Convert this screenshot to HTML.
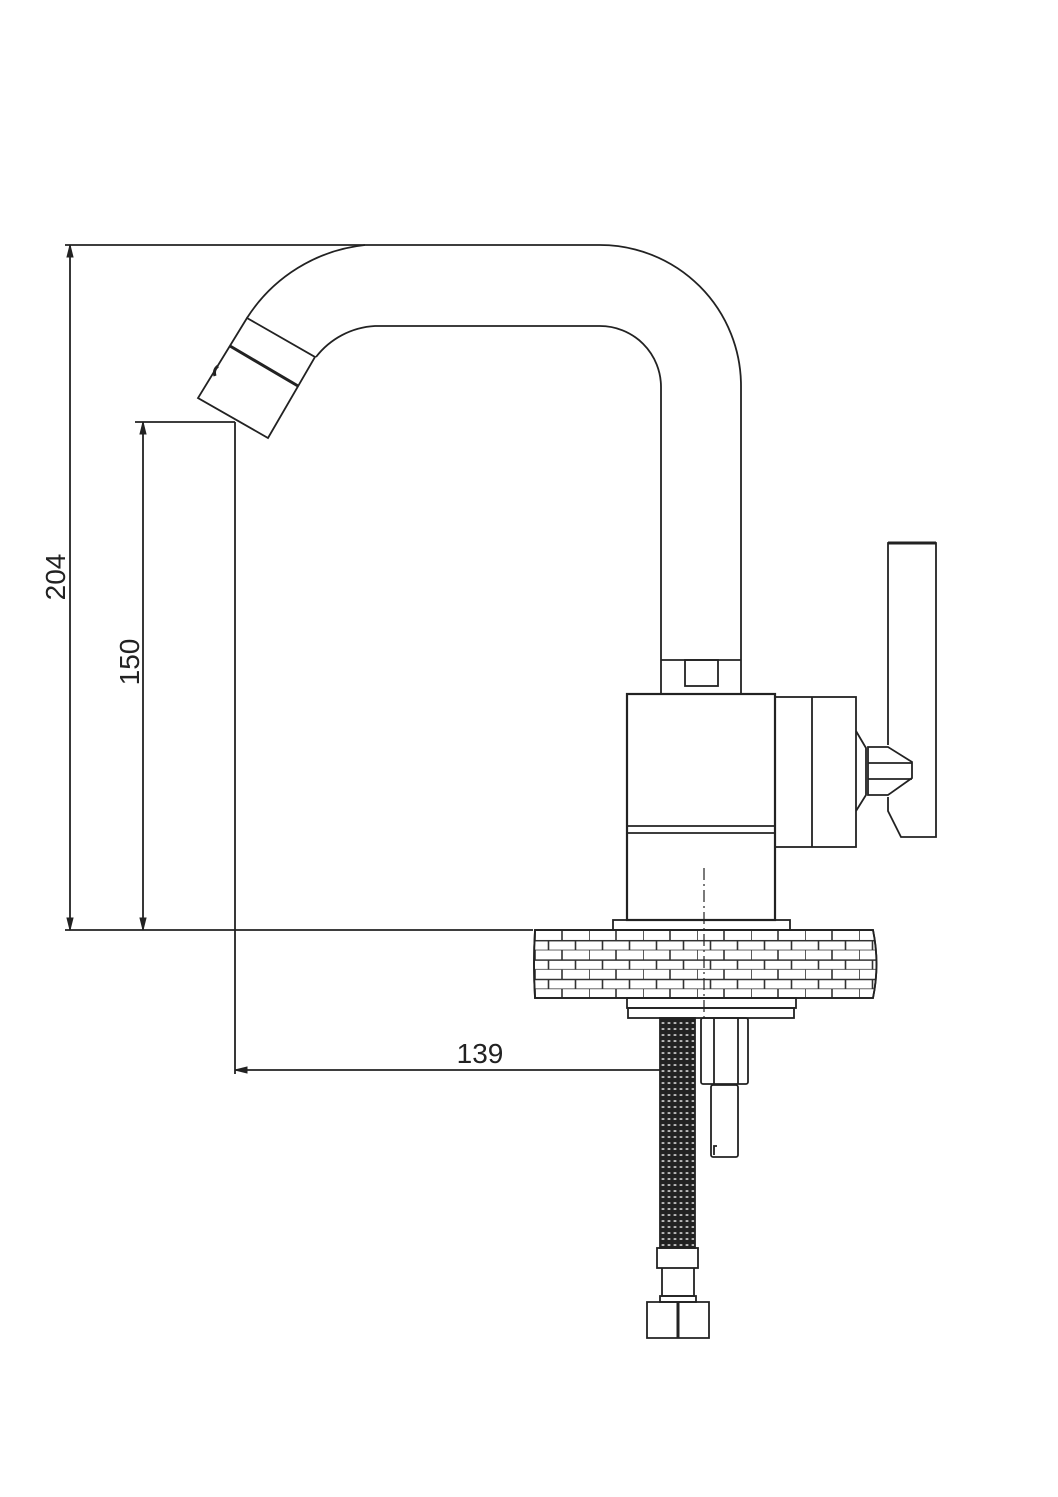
<!DOCTYPE html>
<html><head><meta charset="utf-8"><style>html,body{margin:0;padding:0;background:#fff}svg{display:block}</style></head>
<body>
<svg width="1058" height="1497" viewBox="0 0 1058 1497" xmlns="http://www.w3.org/2000/svg">
<defs>
<pattern id="brick" x="535" y="931" width="54" height="19.4" patternUnits="userSpaceOnUse">
<rect width="54" height="19.4" fill="#fff"/>
<path d="M0 9.7H54M0 19.4H54M0 0V9.7M27 0V9.7M13.5 9.7V19.4M40.5 9.7V19.4" stroke="#333" stroke-width="1.6" fill="none"/>
</pattern>
<pattern id="braid" width="6" height="6" patternUnits="userSpaceOnUse">
<rect width="6" height="6" fill="#222"/>
<ellipse cx="3" cy="3" rx="1.6" ry="1" fill="#bbb"/>
</pattern>
</defs>
<g fill="none" stroke="#222" stroke-width="1.8">
<line x1="65" y1="245" x2="365" y2="245"/>
<line x1="70" y1="245" x2="70" y2="930"/>
<line x1="65" y1="930" x2="533" y2="930"/>
<line x1="135" y1="422" x2="235" y2="422"/>
<line x1="143" y1="422" x2="143" y2="930"/>
<line x1="235" y1="422" x2="235" y2="1074"/>
<line x1="235" y1="1070" x2="660" y2="1070"/>
<path d="M70 245l-3 12h6zM70 930l-3-12h6zM143 422l-3 12h6zM143 930l-3-12h6zM235 1070l12-3v6z" fill="#222" stroke-width="1"/>
<path d="M247 318 A160 160 0 0 1 365 245 H600 A141 141 0 0 1 741 386 V694"/>
<path d="M316 357 A80 80 0 0 1 375 326 H600 A61 61 0 0 1 661 387 V694"/>
<line x1="661" y1="660" x2="741" y2="660"/>
<rect x="685" y="660" width="33" height="26"/>
<path d="M247 318 L315 357 L268 438 L198 398 Z"/>
<line x1="230" y1="346" x2="298" y2="386" stroke-width="3"/>
<path d="M218 366 q-5 4 -3 10" stroke-width="3"/>
<rect x="627" y="694" width="148" height="226" stroke-width="2.2"/>
<line x1="627" y1="826" x2="775" y2="826"/>
<line x1="627" y1="833" x2="775" y2="833"/>
<rect x="775" y="697" width="81" height="150"/>
<line x1="812" y1="697" x2="812" y2="847"/>
<path d="M856 731 L866 748 V795 L856 811"/>
<path d="M868 747 H888 L912 762 V778 L888 795 H868 Z"/>
<line x1="868" y1="763" x2="912" y2="763"/>
<line x1="868" y1="779" x2="912" y2="779"/>
<path d="M888 745 V543 H936 V837 H901 L888 811 V797"/>
<line x1="888" y1="543" x2="936" y2="543" stroke-width="3"/>
<rect x="613" y="920" width="177" height="10"/>
<path d="M535 930 H873 Q880 964 873 998 H535 Q533 964 535 930 Z" fill="url(#brick)"/>
<path d="M535 930 H873 Q880 964 873 998 H535 Q533 964 535 930 Z"/>
<rect x="627" y="998" width="169" height="10"/>
<rect x="628" y="1008" width="166" height="10"/>
<rect x="660" y="1018" width="35" height="230" fill="url(#braid)" stroke="#222"/>
<rect x="701" y="1018" width="47" height="66" rx="2"/>
<line x1="714" y1="1018" x2="714" y2="1084"/>
<line x1="738" y1="1018" x2="738" y2="1084"/>
<rect x="711" y="1085" width="27" height="72" rx="2"/>
<path d="M714 1155 V1146 h3"/>
<rect x="657" y="1248" width="41" height="20"/>
<path d="M662 1268 V1296 H694 V1268"/>
<rect x="660" y="1296" width="36" height="6"/>
<path d="M647 1302 H709 V1338 H647 Z"/>
<line x1="678" y1="1302" x2="678" y2="1338" stroke-width="3"/>
<line x1="704" y1="868" x2="704" y2="1018" stroke-dasharray="12 4 2 4" stroke-width="1.2"/>
</g>
<g font-family="Liberation Sans, Arial, sans-serif" font-size="28" fill="#222">
<text x="480" y="1063" text-anchor="middle">139</text>
<text transform="translate(65 577) rotate(-90)" text-anchor="middle">204</text>
<text transform="translate(139 662) rotate(-90)" text-anchor="middle">150</text>
</g>
</svg>
</body></html>
